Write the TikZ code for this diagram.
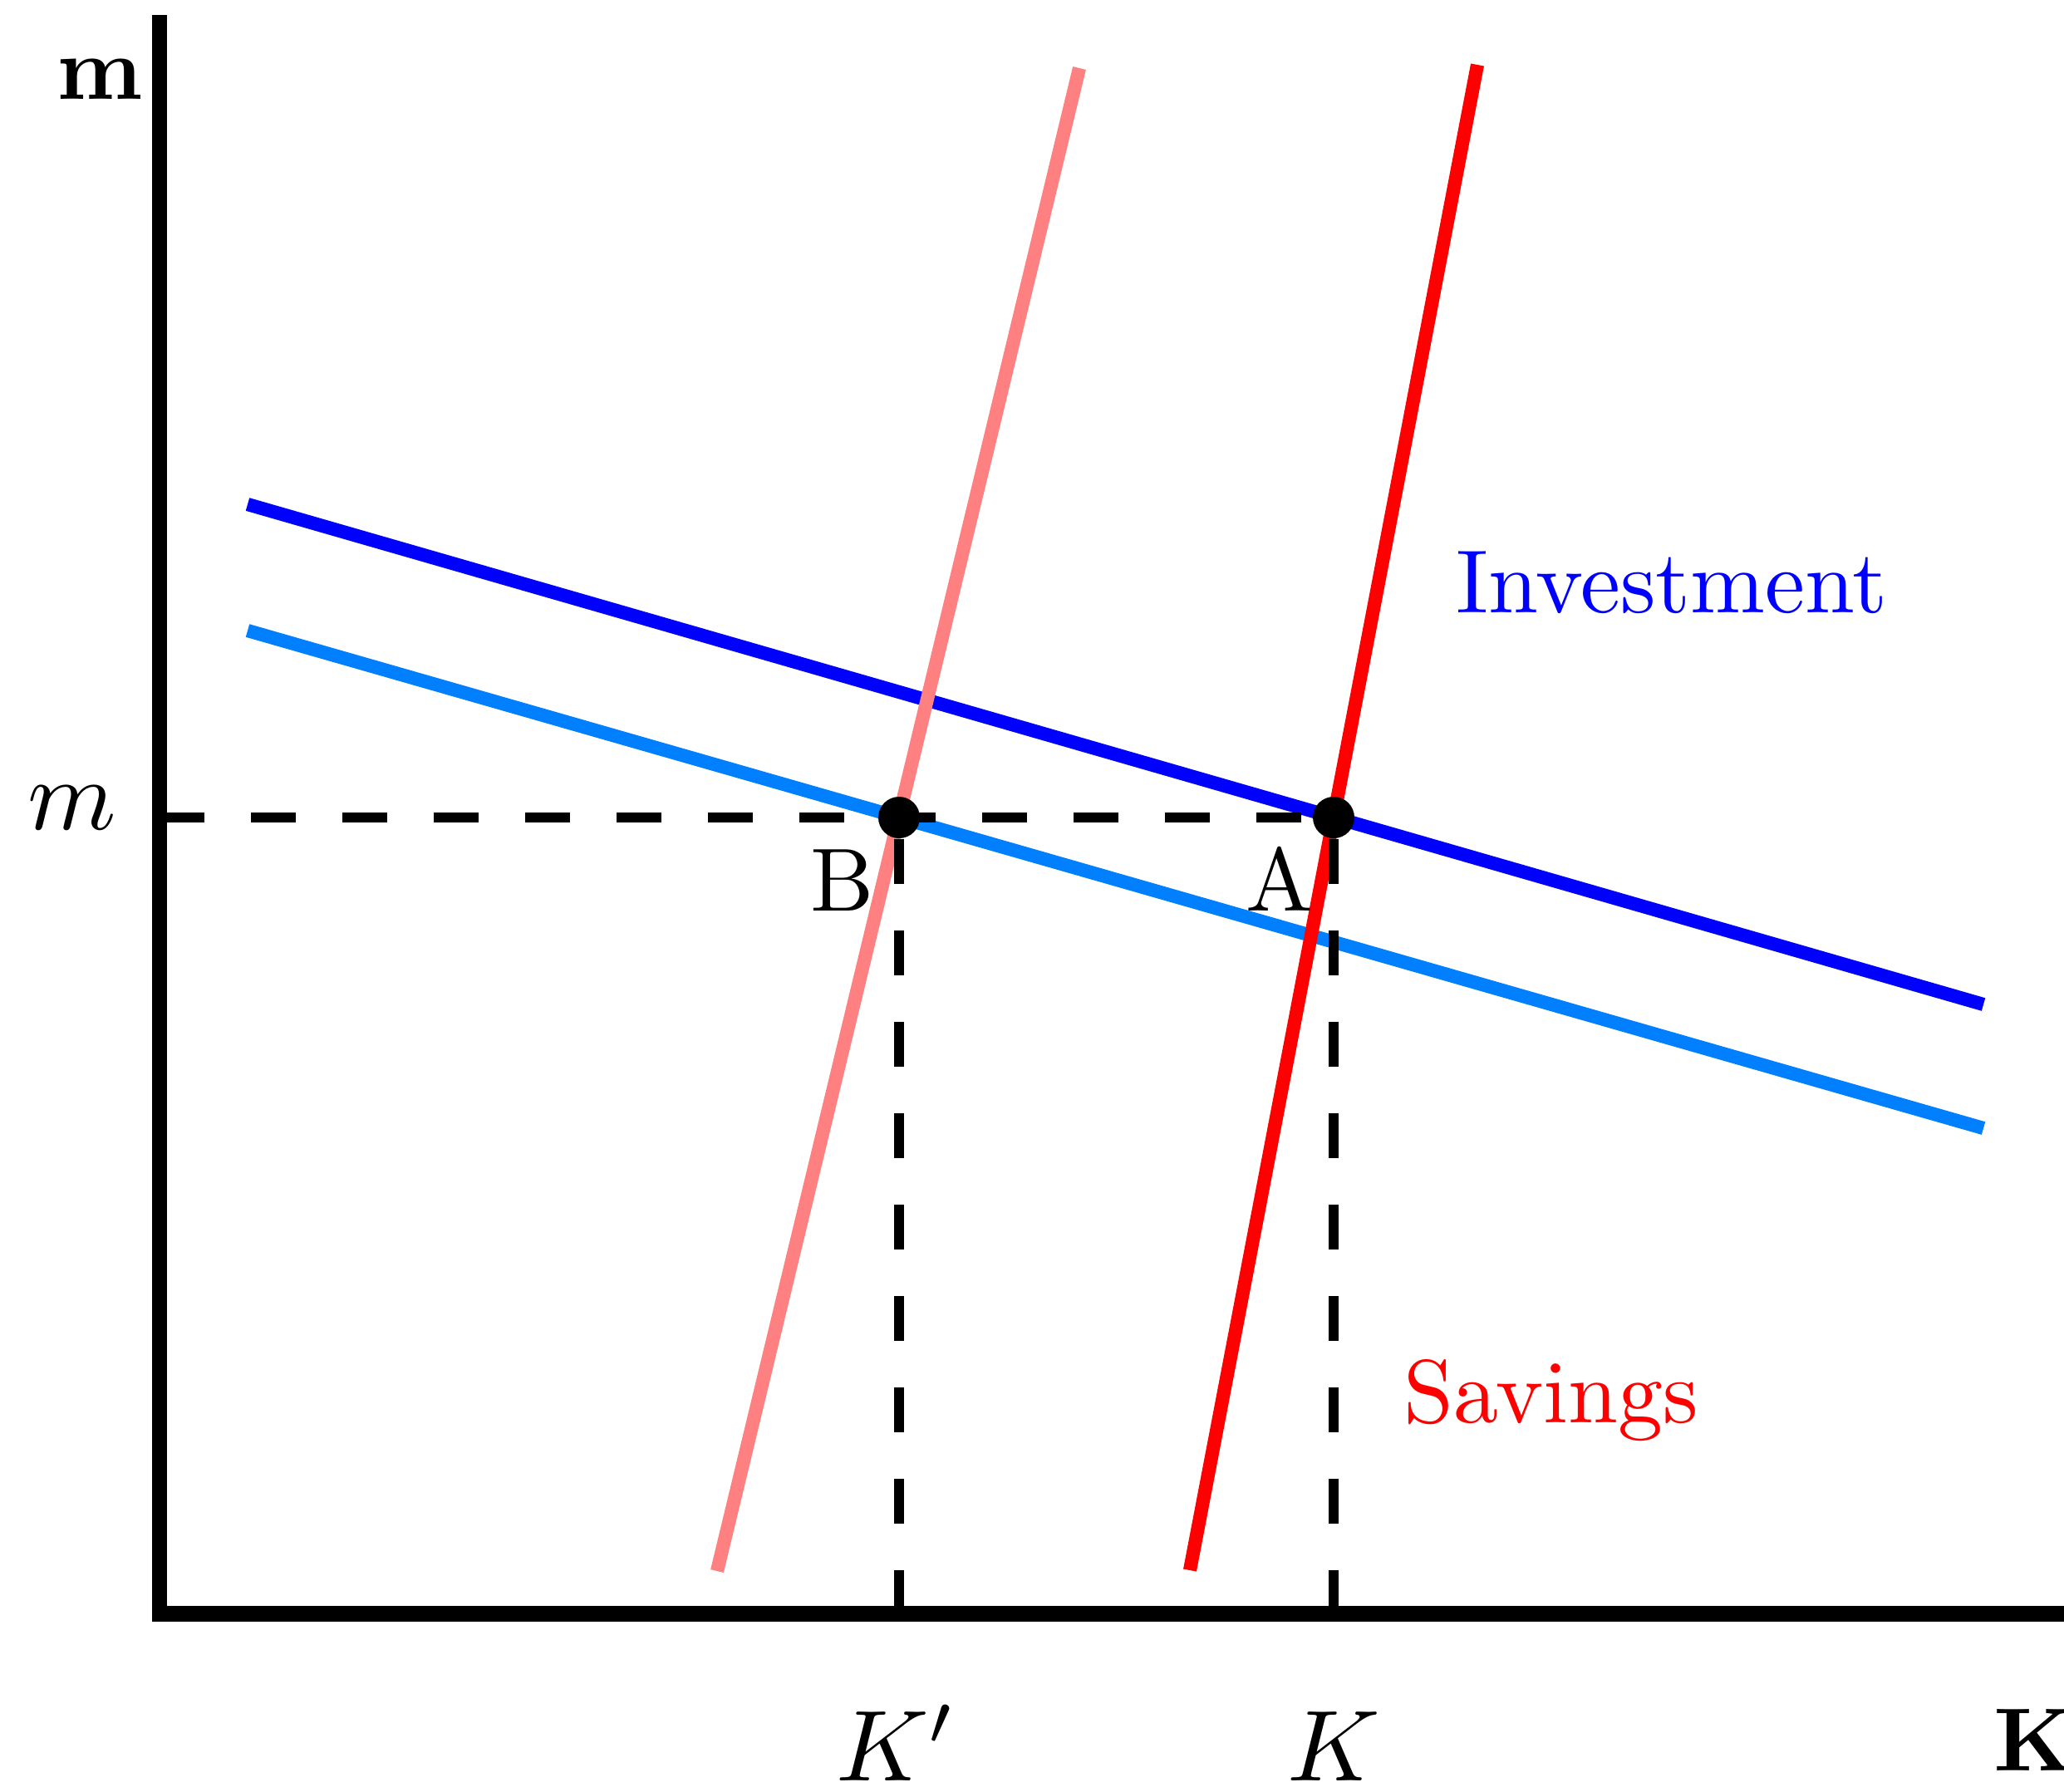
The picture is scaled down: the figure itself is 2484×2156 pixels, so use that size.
\documentclass[tikz,border=0pt]{standalone}
\usepackage{amsmath}
\usepackage{tikz}
\usetikzlibrary{positioning}
\definecolor{invdark}{HTML}{0000FF}
\definecolor{invlight}{HTML}{0080FF}
\definecolor{savdark}{HTML}{FF0000}
\definecolor{savlight}{HTML}{FF8080}
\newcommand{\txtlab}[1]{\scalebox{3.07}{#1}}
\newcommand{\mathlab}[1]{\scalebox{3.45}{$#1$}}

\begin{document}
\begin{tikzpicture}[x=0.1mm,y=-0.1mm,
  axis/.style={line width=5.4pt},
  curve/.style={line width=4.6pt},
  guide/.style={line width=3.5pt,dash pattern=on 5.4mm off 5.6mm},
  dot/.style={circle,fill=black,inner sep=0pt,minimum size=5mm}]
\useasboundingbox (0,0) rectangle (2484,2156);
% axes
\coordinate (ytop) at (192,18); \coordinate (ybot) at (192,1952);
\coordinate (xleft) at (183,1942); \coordinate (xright) at (2484,1942);
\draw[axis] (ytop)--(ybot); \draw[axis] (xleft)--(xright);
% investment and savings schedules
\coordinate (inv1) at (298,607); \coordinate (inv2) at (2387,1209);
\coordinate (invb1) at (298,759); \coordinate (invb2) at (2387,1358);
\coordinate (sav1) at (1432,1890); \coordinate (sav2) at (1778,78);
\coordinate (savb1) at (863,1891); \coordinate (savb2) at (1299,82);
\draw[curve,invdark] (inv1)--(inv2);
\draw[curve,invlight] (invb1)--(invb2);
\draw[curve,savlight] (savb1)--(savb2);
\draw[curve,savdark] (sav1)--(sav2);
% equilibria
\node[dot] (B) at (1082,984) {};
\node[dot] (A) at (1605,984) {};
\coordinate (mtick) at (192,984);
\coordinate (Ktick) at (1605,1942); \coordinate (Kbtick) at (1082,1942);
\draw[guide] (mtick)--(A);
\draw[guide] (A)--(Ktick); \draw[guide] (B)--(Kbtick);
% labels
\node[anchor=base] (ylab) at (120,119) {\txtlab{$\mathbf{m}$}};
\node[anchor=base] (xlab) at (2448,2131) {\txtlab{$\mathbf{K}$}};
\node[anchor=base] (mlab) at (87,998) {\mathlab{m}};
\node[anchor=base] (Kblab) at (1079,2143) {\mathlab{K'}};
\node[anchor=base] (Klab) at (1605,2143) {\mathlab{K}};
\node[anchor=base] (Blab) at (1014,1096) {\txtlab{B}};
\node[anchor=base] (Alab) at (1540,1096) {\txtlab{A}};
\node[anchor=base,text=invdark] (invlab) at (2012,737) {\txtlab{Investment}};
\node[anchor=base,text=savdark] (savlab) at (1867,1712) {\txtlab{Savings}};
\end{tikzpicture}
\end{document}
